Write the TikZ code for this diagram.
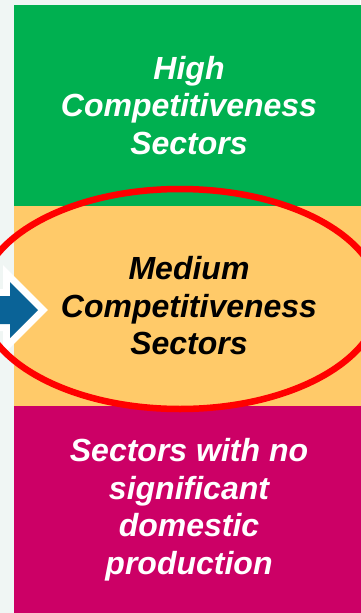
\documentclass[tikz,border=0pt]{standalone}
\usepackage{fontspec}
\newfontfamily\boxfont{Liberation Sans}
\usetikzlibrary{shapes.geometric}
\definecolor{paper}{HTML}{F0F6F4}
\definecolor{c1}{HTML}{00B050}
\definecolor{c2}{HTML}{FFCA69}
\definecolor{c3}{HTML}{CC0066}
\definecolor{ringred}{HTML}{FF0000}
\definecolor{arrowblue}{HTML}{0A6397}

\begin{document}
\begin{tikzpicture}[
    x=1pt, y=-1pt,
    band/.style={rectangle, inner sep=0pt, minimum width=350pt, align=center,
        font=\boxfont\bfseries\itshape\fontsize{32}{37.5}\selectfont},
]

% ---------------------------------------------------------------- frame
\fill[paper] (0,0) rectangle (360,613);
\useasboundingbox (0,0) rectangle (360,613);

% ---------------------------------------------------------------- bands
\node[band, fill=c1, text=white, minimum height=201pt] (high) at (189, 105.5)
    {High\\Competitiveness\\Sectors};
\node[band, fill=c2, text=black, minimum height=200pt] (medium) at (189, 306)
    {Medium\\Competitiveness\\Sectors};
\node[band, fill=c3, text=white, minimum height=207pt] (none) at (189, 509.5)
    {Sectors with no\\significant\\domestic\\production};

% ---------------------------------------------------------------- pointer
\draw[white, line width=14pt, line join=miter]
    (-20,296) -- (10,296) -- (10,282) -- (38,310) -- (10,338) -- (10,324) -- (-20,324) -- cycle;
\fill[arrowblue]
    (-20,296) -- (10,296) -- (10,282) -- (38,310) -- (10,338) -- (10,324) -- (-20,324) -- cycle;

% ---------------------------------------------------------------- ring
\node[ellipse, draw=ringred, line width=6.5pt, inner sep=0pt,
    minimum width=400pt, minimum height=220pt] (ring) at (180, 299) {};

\end{tikzpicture}
\end{document}
